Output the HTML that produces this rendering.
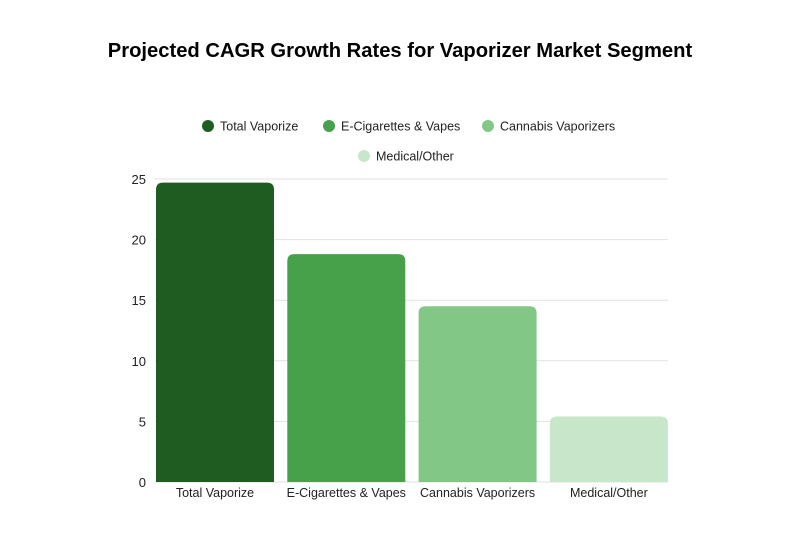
<!DOCTYPE html>
<html><head><meta charset="utf-8"><style>
body{margin:0;background:#fff;}
svg text{font-family:"Liberation Sans",sans-serif;}
</style></head><body>
<svg id="chart" width="800" height="533" xmlns="http://www.w3.org/2000/svg">
<rect width="800" height="533" fill="#fff"/>
<text x="400" y="57" text-anchor="middle" font-size="20.2" font-weight="bold" fill="#000">Projected CAGR Growth Rates for Vaporizer Market Segment</text>
<g id="legend"></g>
<g id="grid"></g>
<g id="bars"></g>
<g id="xlabels"></g>
</svg>
<script>
const categories=["Total Vaporize","E-Cigarettes & Vapes","Cannabis Vaporizers","Medical/Other"];
const values=[24.7,18.8,14.5,5.4];
const yTicks=[0,5,10,15,20,25];
const colors=["#1e5c22","#46a14a","#82c785","#c8e6c9"];
const NS="http://www.w3.org/2000/svg";
const y0=482,yTop=179,yMax=25;
const y=v=>y0-(v/yMax)*(y0-yTop);
const xStart=156,step=131.3,bw=118;
function mk(tag,attrs,parent){const e=document.createElementNS(NS,tag);for(const k in attrs)e.setAttribute(k,attrs[k]);parent.appendChild(e);return e;}
const grid=document.getElementById('grid');
yTicks.forEach(t=>{
  const l=mk('line',{x1:155,x2:668,y1:y(t),y2:y(t),stroke:'#e2e2e2','stroke-width':1},grid);
  
  
  const tx=mk('text',{x:146,y:y(t)+5,'text-anchor':'end','font-size':13,fill:'#222'},grid);
  tx.textContent=t;
  
  
});
const bars=document.getElementById('bars'),xl=document.getElementById('xlabels');
values.forEach((v,i)=>{
  const x=xStart+i*step,top=y(v),r=7;
  const p=mk('path',{d:`M${x},${y0}V${top+r}Q${x},${top} ${x+r},${top}H${x+bw-r}Q${x+bw},${top} ${x+bw},${top+r}V${y0}Z`,fill:colors[i]},bars);
  
  
  const t=mk('text',{x:x+bw/2,y:497,'text-anchor':'middle','font-size':12.5,fill:'#222'},xl);
  t.textContent=categories[i];
  
  
});
const lg=document.getElementById('legend');
const legPos=[[208,126],[329,126],[488,126],[364,156]];
categories.forEach((c,i)=>{
  const g=mk('g',{},lg);
  
  
  mk('circle',{cx:legPos[i][0],cy:legPos[i][1],r:6,fill:colors[i]},g);
  const t=mk('text',{x:legPos[i][0]+12,y:legPos[i][1]+4.5,'font-size':12.5,fill:'#222'},g);
  t.textContent=c;
});
</script>
</body></html>
